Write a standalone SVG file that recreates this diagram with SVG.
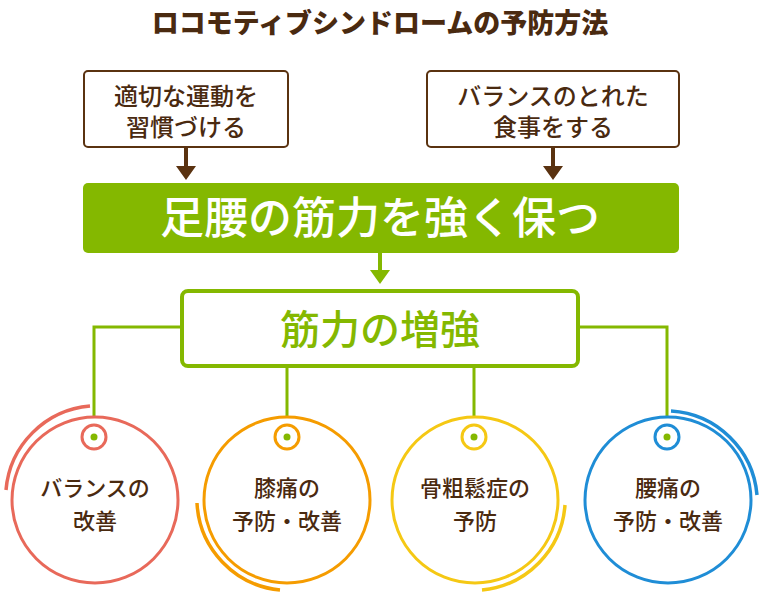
<svg xmlns="http://www.w3.org/2000/svg" width="760" height="592" viewBox="0 0 760 592">
<style>
text{font-family:"Noto Sans CJK JP",sans-serif;text-anchor:middle;font-weight:500}
.b{fill:#4a2a10}
.sb{fill:#fff;stroke:#5a3210;stroke-width:2}
.g{fill:none;stroke:#84b800;stroke-width:3}
.c{fill:#fff;stroke-width:3}
.a{fill:none;stroke-width:3.5}
.t{font-size:24px}
.ct{font-size:22px}
</style>
<text x="380" y="33" font-size="27" class="b" style="font-weight:900">ロコモティブシンドロームの予防方法</text>
<g id="conn">
<path d="M186 147V168M553 147V168" stroke="#5a3210" stroke-width="4"/>
<path d="M176 166h20l-10 14zM543 166h20l-10 14z" fill="#5a3210"/>
<path d="M380 253V272" stroke="#84b800" stroke-width="4"/>
<path d="M370 270h20l-10 14z" fill="#84b800"/>
<path class="g" d="M182 327H94V437M578 327H667V437M287 366V437M474 366V437"/>
</g>
<g id="box1"><rect class="sb" x="84" y="71" width="204" height="76" rx="4"/>
<text x="186" y="105" class="b t">適切な運動を</text><text x="186" y="136" class="b t">習慣づける</text></g>
<g id="box2"><rect class="sb" x="427" y="71" width="252" height="76" rx="4"/>
<text x="553" y="105" class="b t">バランスのとれた</text><text x="553" y="136" class="b t">食事をする</text></g>
<g id="main"><rect x="83" y="183" width="596" height="70" rx="5" fill="#84b800"/>
<text x="380" y="234" font-size="44" fill="#fff">足腰の筋力を強く保つ</text></g>
<g id="sub"><rect x="182" y="291" width="396" height="75" rx="6" fill="#fff" stroke="#84b800" stroke-width="4"/>
<text x="380" y="344" font-size="40" fill="#84b800">筋力の増強</text></g>
<g id="c1"><path class="a" stroke="#e8695a" d="M90 406A92 92 0 0 0 6 490"/><circle class="c" stroke="#e8695a" cx="95" cy="500" r="83"/><circle cx="94" cy="437" r="12" fill="none" stroke="#e8695a" stroke-width="3"/><circle cx="94" cy="437" r="3.5" fill="#84b800"/>
<text x="95" y="496" class="b ct">バランスの</text><text x="95" y="529" class="b ct">改善</text></g>
<g id="c2"><path class="a" stroke="#f59c00" d="M197 503A92 92 0 0 0 280 590"/><circle class="c" stroke="#f59c00" cx="287" cy="500" r="83"/><circle cx="287" cy="437" r="12" fill="none" stroke="#f59c00" stroke-width="3"/><circle cx="287" cy="437" r="3.5" fill="#84b800"/>
<text x="287" y="496" class="b ct">膝痛の</text><text x="287" y="529" class="b ct">予防・改善</text></g>
<g id="c3"><path class="a" stroke="#f5c814" d="M565 505A92 92 0 0 1 482 590"/><circle class="c" stroke="#f5c814" cx="475" cy="500" r="83"/><circle cx="474" cy="437" r="12" fill="none" stroke="#f5c814" stroke-width="3"/><circle cx="474" cy="437" r="3.5" fill="#84b800"/>
<text x="475" y="496" class="b ct">骨粗鬆症の</text><text x="475" y="529" class="b ct">予防</text></g>
<g id="c4"><path class="a" stroke="#1f8dd6" d="M671 411A92 92 0 0 1 757 495"/><circle class="c" stroke="#1f8dd6" cx="668" cy="500" r="83"/><circle cx="667" cy="437" r="12" fill="none" stroke="#1f8dd6" stroke-width="3"/><circle cx="667" cy="437" r="3.5" fill="#84b800"/>
<text x="668" y="496" class="b ct">腰痛の</text><text x="668" y="529" class="b ct">予防・改善</text></g>
</svg>
